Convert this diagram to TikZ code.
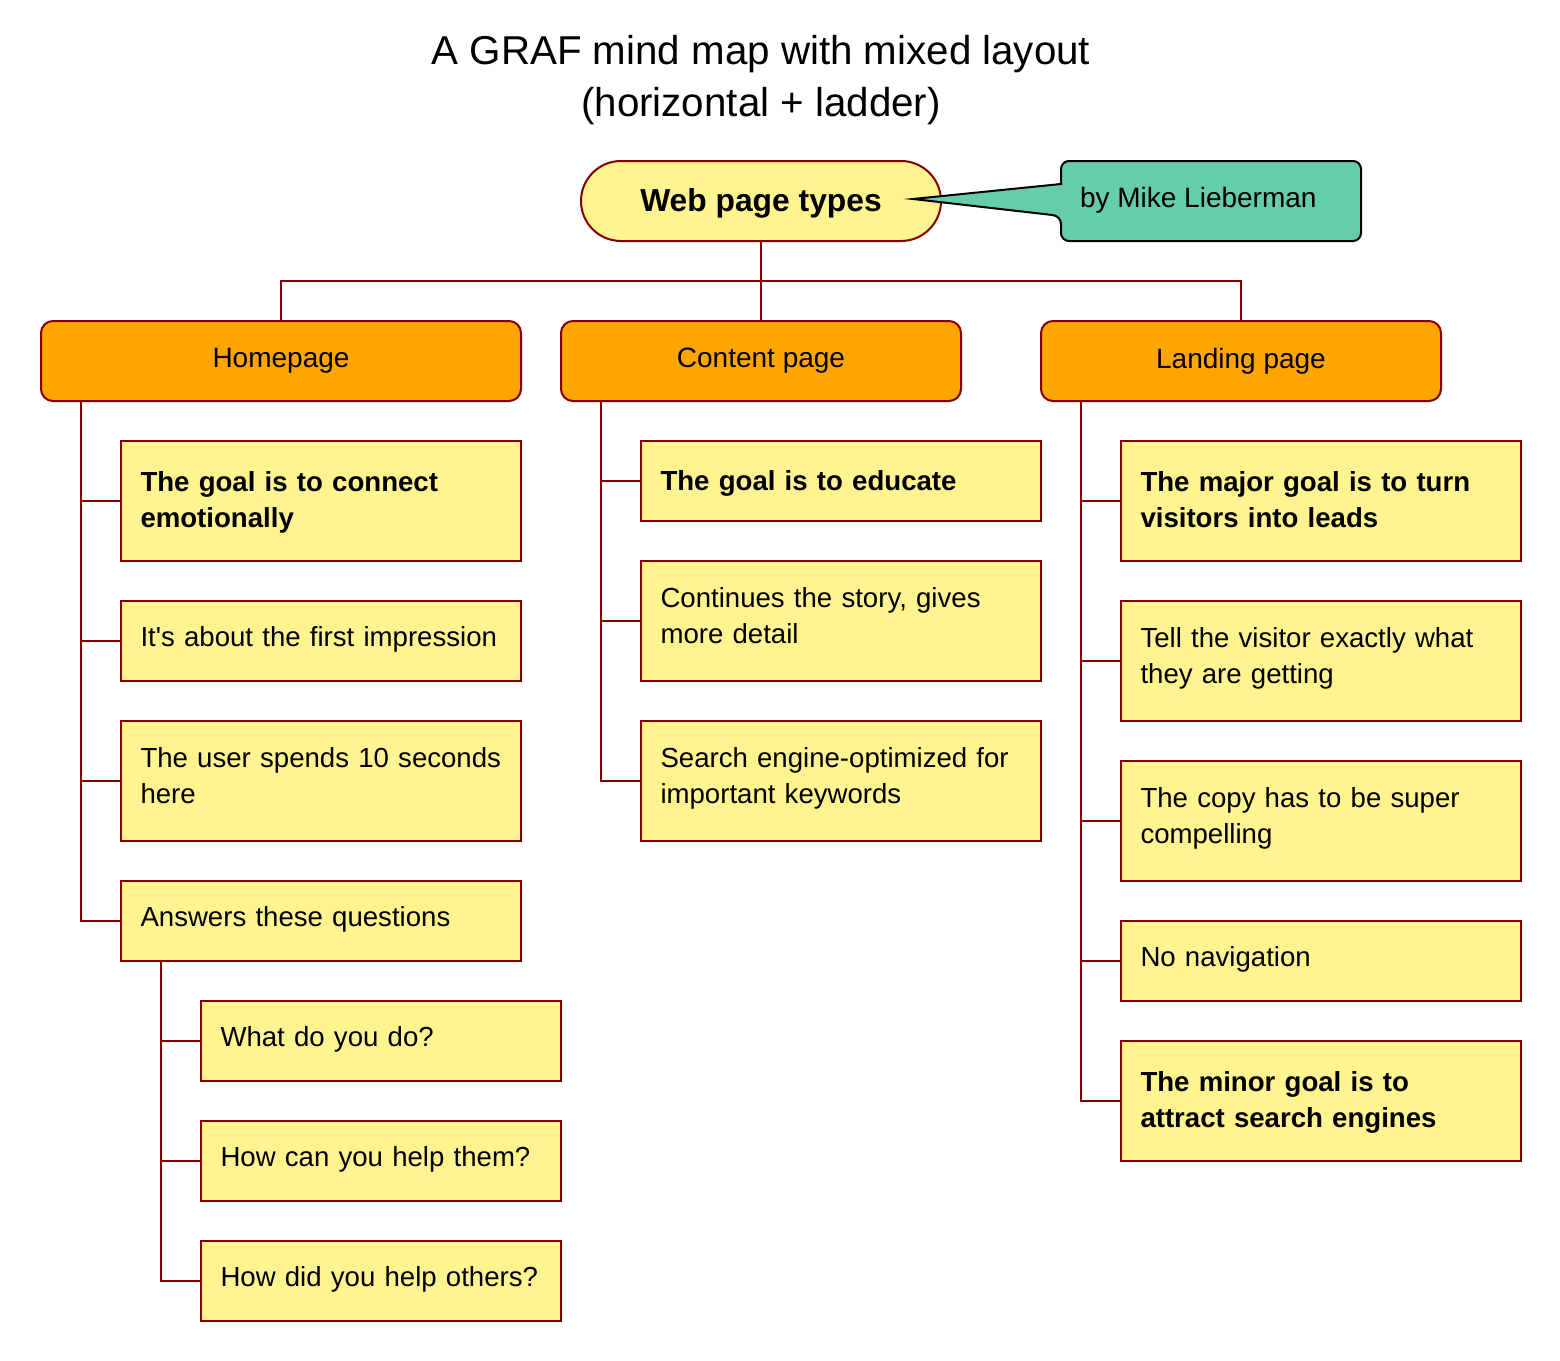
\documentclass[tikz,border=0pt]{standalone}
\usepackage{fontspec}
\setmainfont{Liberation Sans}
\definecolor{dred}{HTML}{800000}
\definecolor{lyellow}{HTML}{FFF48F}
\definecolor{orng}{HTML}{FFA500}
\definecolor{mgreen}{HTML}{66CDAA}
\newcommand{\fsn}{\fontsize{28pt}{36pt}\selectfont}
\newcommand{\fsl}{\fontsize{27.6pt}{36pt}\selectfont}
\newcommand{\sone}[1]{\mbox{\rule[-14pt]{0pt}{38pt}#1}}
\newcommand{\soneb}[1]{\mbox{\rule[-10pt]{0pt}{38pt}#1}}
\newcommand{\stwo}[2]{\mbox{\rule[-8.6pt]{0pt}{34.6pt}#1}\\\mbox{\rule[-8.6pt]{0pt}{34.6pt}#2}}
\newcommand{\stwor}[2]{\mbox{\rule[-5pt]{0pt}{31pt}#1}\\\mbox{\rule[-16.6pt]{0pt}{36.6pt}#2}}
\tikzset{
  ln/.style={draw=dred, line width=2pt},
  leaf/.style={draw=dred, fill=lyellow, line width=2pt, minimum height=#1,
    inner xsep=19.5pt, inner ysep=0pt, align=left, anchor=north west, font=\fsl},
  leaf/.default=80pt,
  bold/.style={font=\fsl\bfseries},
  topic/.style={draw=dred, fill=orng, line width=2pt, rounded corners=12pt,
    minimum height=80pt, inner sep=0pt, align=center, anchor=north west, font=\fsn},
}
\begin{document}
\begin{tikzpicture}[x=1pt,y=-1pt, every node/.append style={outer sep=0pt}]
\useasboundingbox (0,0) rectangle (1560,1360);
% title
\node[font=\fontsize{40.3pt}{52pt}\selectfont, align=center] (title) at (761,80)
  {A GRAF mind map with mixed layout\\(horizontal + ladder)};
% root
\node[draw=dred, fill=lyellow, line width=2pt, rounded corners=40pt,
  minimum width=360pt, minimum height=80pt, inner sep=0pt,
  font=\fontsize{31.8pt}{38pt}\selectfont\bfseries] (root) at (761,201)
  {\rule[-7pt]{0pt}{34pt}Web page types};
% callout
\draw[draw=black, fill=mgreen, line width=2pt, line join=miter]
  (1061,184) [rounded corners=8pt] -- (1061,161) -- (1361,161) -- (1361,241) -- (1061,241)
  -- (1061,216) [sharp corners] -- (913,199) -- cycle;
\node[font=\fsn, anchor=west, inner sep=0pt] (callout) at (1080,200) {by Mike Lieberman};
% topics
\node[topic, minimum width=480pt] (home) at (41,321) {Homepage};
\node[topic, minimum width=400pt] (content) at (561,321) {Content page};
\node[topic, minimum width=400pt] (land) at (1041,321) {Landing page};
\coordinate (bus) at (761,281);
\draw[ln] (root.south) -- (bus);
\draw[ln] (bus) -| (home.north);
\draw[ln] (bus) -- (content.north);
\draw[ln] (bus) -| (land.north);
% homepage children
\node[leaf=120pt, bold, text width=361pt] (h1) at (121,441) {\stwo{The goal is to connect}{emotionally}};
\node[leaf, text width=361pt] (h2) at (121,601) {\sone{It\textquotesingle s about the first impression}};
\node[leaf=120pt, text width=361pt] (h3) at (121,721) {\stwor{The user spends 10 seconds}{here}};
\node[leaf, text width=361pt] (h4) at (121,881) {\sone{Answers these questions}};
\node[leaf, text width=321pt] (q1) at (201,1001) {\sone{What do you do?}};
\node[leaf, text width=321pt] (q2) at (201,1121) {\sone{How can you help them?}};
\node[leaf, text width=321pt] (q3) at (201,1241) {\sone{How did you help others?}};
\foreach \c in {h1,h2,h3,h4} \draw[ln] ([xshift=40pt]home.south west) |- (\c.west);
\foreach \c in {q1,q2,q3} \draw[ln] ([xshift=40pt]h4.south west) |- (\c.west);
% content children
\node[leaf, bold, text width=361pt] (c1) at (641,441) {\soneb{The goal is to educate}};
\node[leaf=120pt, text width=361pt] (c2) at (641,561) {\stwor{Continues the story, gives}{more detail}};
\node[leaf=120pt, text width=361pt] (c3) at (641,721) {\stwor{Search engine-optimized for}{important keywords}};
\foreach \c in {c1,c2,c3} \draw[ln] ([xshift=40pt]content.south west) |- (\c.west);
% landing children
\node[leaf=120pt, bold, text width=361pt] (l1) at (1121,441) {\stwo{The major goal is to turn}{visitors into leads}};
\node[leaf=120pt, text width=361pt] (l2) at (1121,601) {\stwor{Tell the visitor exactly what}{they are getting}};
\node[leaf=120pt, text width=361pt] (l3) at (1121,761) {\stwor{The copy has to be super}{compelling}};
\node[leaf, text width=361pt] (l4) at (1121,921) {\sone{No navigation}};
\node[leaf=120pt, bold, text width=361pt] (l5) at (1121,1041) {\stwo{The minor goal is to}{attract search engines}};
\foreach \c in {l1,l2,l3,l4,l5} \draw[ln] ([xshift=40pt]land.south west) |- (\c.west);
\end{tikzpicture}
\end{document}
